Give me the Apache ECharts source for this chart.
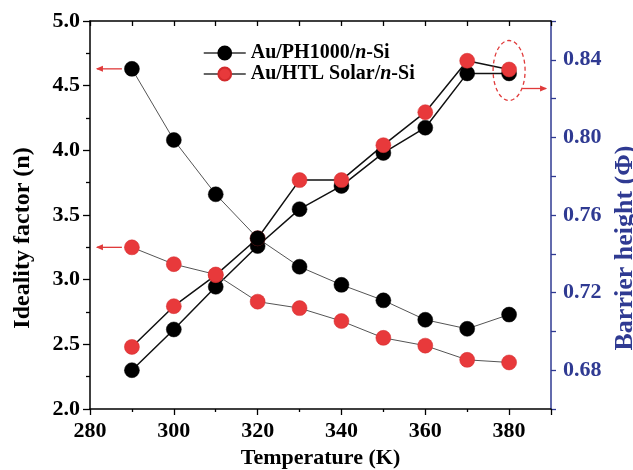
<!DOCTYPE html>
<html>
<head>
<meta charset="utf-8">
<script src="https://cdn.jsdelivr.net/npm/echarts@6/dist/echarts.min.js"></script>
<style>
html,body{margin:0;padding:0;background:#fff;}
#chart{width:633px;height:470px;}
</style>
</head>
<body>
<div id="chart"></div>
<script>
// ---- data ----
const temperatures = [290, 300, 310, 320, 330, 340, 350, 360, 370, 380];
const nameA = 'Au/PH1000/n-Si';
const nameB = 'Au/HTL Solar/n-Si';
const idealityA = [4.63, 4.08, 3.66, 3.32, 3.10, 2.96, 2.84, 2.69, 2.62, 2.73];
const idealityB = [3.25, 3.12, 3.04, 2.83, 2.78, 2.68, 2.55, 2.49, 2.38, 2.36];
const barrierA = [0.680, 0.701, 0.723, 0.744, 0.763, 0.775, 0.792, 0.805, 0.833, 0.833];
const barrierB = [0.692, 0.713, 0.729, 0.748, 0.778, 0.778, 0.796, 0.813, 0.8395, 0.835];
const xTicks = [280, 300, 320, 340, 360, 380];
const leftTicks = ['2.0', '2.5', '3.0', '3.5', '4.0', '4.5', '5.0'];
const rightTicks = ['0.68', '0.72', '0.76', '0.80', '0.84'];

const pairs = (xs, ys) => xs.map((x, i) => [x, ys[i]]);
const FONT = '"Liberation Serif", "Times New Roman", serif';
const BLUE = '#2F3A92';
const RED = '#E8393B';

const chart = echarts.init(document.getElementById('chart'), null, {renderer: 'canvas'});

function mkSeries(name, data, yIdx, color, lineColor, lineWidth) {
  return {
    name: name, type: 'line', xAxisIndex: 0, yAxisIndex: yIdx,
    data: data, symbol: 'circle', symbolSize: 15,
    itemStyle: {color: color, borderColor: color === RED ? '#D22A2C' : '#000', borderWidth: 0.5},
    lineStyle: {color: lineColor, width: lineWidth},
    emphasis: {disabled: true}, animation: false
  };
}

const option = {
  backgroundColor: '#fff',
  animation: false,
  grid: {left: 90, top: 21, right: 82, bottom: 61, containLabel: false, outerBoundsMode: 'none'},
  legend: {
    orient: 'vertical', left: 198, top: 38, itemWidth: 42, itemHeight: 16, itemGap: 1,
    data: [nameA, nameB],
    lineStyle: {color: '#333', width: 1.5},
    formatter: function (name) {
      const p = name.split('/n-');
      return '{b|' + p[0] + '/}{i|n}{b|-' + p[1] + '}';
    },
    textStyle: {
      rich: {
        b: {fontFamily: FONT, fontWeight: 'bold', fontSize: 20, color: '#000'},
        i: {fontFamily: FONT, fontWeight: 'bold', fontStyle: 'italic', fontSize: 20, color: '#000'}
      }
    }
  },
  xAxis: [{
    type: 'value', min: 280, max: 390, interval: 20, position: 'bottom',
    name: 'Temperature (K)', nameLocation: 'middle', nameGap: 37,
    nameTextStyle: {fontFamily: FONT, fontWeight: 'bold', fontSize: 22, color: '#000'},
    axisLine: {lineStyle: {color: '#000', width: 1.5}},
    axisTick: {inside: false, length: 6, lineStyle: {color: '#000', width: 1.3}},
    minorTick: {show: true, splitNumber: 2, length: 3, lineStyle: {color: '#000', width: 1.3}},
    axisLabel: {fontFamily: FONT, fontWeight: 'bold', fontSize: 22, color: '#000', margin: 11,
      showMaxLabel: false,
      formatter: v => xTicks.indexOf(v) >= 0 ? String(v) : ''},
    splitLine: {show: false}
  }, {
    type: 'value', min: 280, max: 390, interval: 10, position: 'top',
    axisLine: {lineStyle: {color: '#000', width: 1.5}},
    axisTick: {inside: true, length: 5, lineStyle: {color: '#000', width: 1.3}},
    axisLabel: {show: false}, splitLine: {show: false}
  }],
  yAxis: [{
    type: 'value', min: 2.0, max: 5.0, interval: 0.5, position: 'left',
    name: 'Ideality factor (n)', nameLocation: 'middle', nameGap: 55, nameRotate: 90,
    nameTextStyle: {fontFamily: FONT, fontWeight: 'bold', fontSize: 24, color: '#000', padding: [0, 46, 0, 0]},
    axisLine: {show: true, lineStyle: {color: '#000', width: 1.5}},
    axisTick: {show: true, length: 7, lineStyle: {color: '#000', width: 1.3}},
    minorTick: {show: true, splitNumber: 2, length: 4, lineStyle: {color: '#000', width: 1.3}},
    axisLabel: {fontFamily: FONT, fontWeight: 'bold', fontSize: 22, color: '#000', margin: 10,
      formatter: v => { const s = v.toFixed(1); return leftTicks.indexOf(s) >= 0 ? s : ''; }},
    splitLine: {show: false}
  }, {
    type: 'value', min: 0.66, max: 0.86, interval: 0.02, position: 'right',
    name: 'Barrier height (\u03A6)', nameLocation: 'middle', nameGap: 58, nameRotate: 90,
    nameTextStyle: {fontFamily: FONT, fontWeight: 'bold', fontSize: 26, color: BLUE, padding: [0, 66, 0, 0]},
    axisLine: {show: true, lineStyle: {color: BLUE, width: 1.5}},
    axisTick: {show: true, length: 5, lineStyle: {color: BLUE, width: 1.3}},
    axisLabel: {fontFamily: FONT, fontWeight: 'bold', fontSize: 22, color: BLUE, margin: 12,
      formatter: v => { const s = v.toFixed(2); return rightTicks.indexOf(s) >= 0 ? s : ''; }},
    splitLine: {show: false}
  }],
  series: [
    mkSeries(nameA, pairs(temperatures, barrierA), 1, '#000', '#111', 1.5),
    mkSeries(nameB, pairs(temperatures, barrierB), 1, RED, '#111', 1.5),
    mkSeries(nameA, pairs(temperatures, idealityA), 0, '#000', '#555', 1),
    mkSeries(nameB, pairs(temperatures, idealityB), 0, RED, '#555', 1)
  ]
};
chart.setOption(option);

// ---- annotations positioned from data coordinates ----
const pA = chart.convertToPixel({xAxisIndex: 0, yAxisIndex: 0}, [temperatures[0], idealityA[0]]);
const pB = chart.convertToPixel({xAxisIndex: 0, yAxisIndex: 0}, [temperatures[0], idealityB[0]]);
const last = temperatures.length - 1;
const pC = chart.convertToPixel({xAxisIndex: 0, yAxisIndex: 1}, [temperatures[last], barrierB[last]]);

function arrow(x1, y, x2) {
  const dir = x2 < x1 ? -1 : 1;
  return [
    {type: 'line', shape: {x1: x1, y1: y, x2: x2, y2: y}, style: {stroke: '#E03A3A', lineWidth: 1.3}, z: 100},
    {type: 'polygon', shape: {points: [[x2 + dir * 1, y], [x2 - dir * 6, y - 3], [x2 - dir * 6, y + 3]]},
      style: {fill: '#E03A3A'}, z: 100}
  ];
}
const elems = [].concat(
  arrow(pA[0] - 10, pA[1], pA[0] - 35),
  arrow(pB[0] - 10, pB[1], pB[0] - 35),
  arrow(pC[0] + 13, pC[1] + 19, pC[0] + 37),
  [{type: 'ellipse', shape: {cx: pC[0], cy: pC[1] + 1, rx: 16, ry: 30},
    style: {fill: 'none', stroke: '#E03A3A', lineWidth: 1.3, lineDash: [4, 3]}, z: 100}]
);
chart.setOption({graphic: {elements: elems}});
</script>
</body>
</html>
